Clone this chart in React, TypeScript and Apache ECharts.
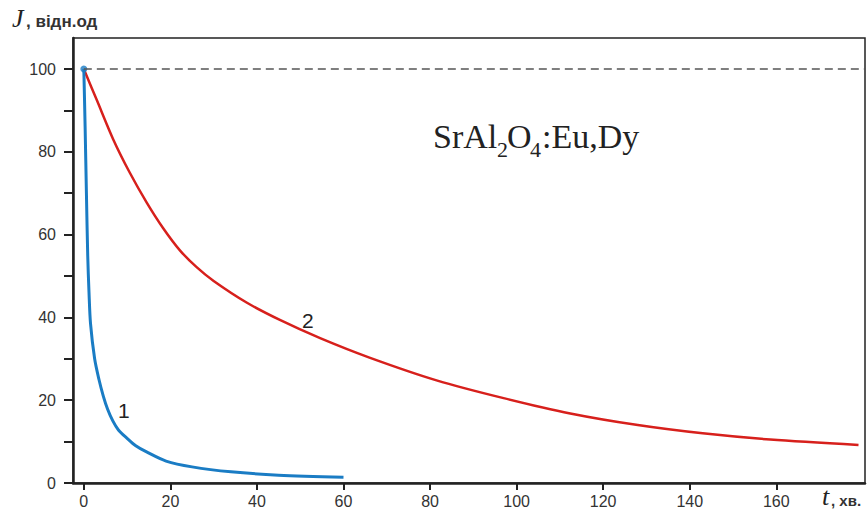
import React, { useEffect, useRef } from "react";
import * as echarts from "echarts";

const curve1: [number, number][] = [
  [0, 100], [0.3, 86], [0.6, 70], [0.9, 55], [1.2, 46], [1.55, 38.5], [2.5, 30],
  [3.5, 25], [4.5, 21], [5.5, 17.8], [6.7, 15], [8, 12.8], [10, 10.8], [12, 9],
  [14.5, 7.5], [19, 5.3], [25, 3.9], [34, 2.7], [45, 1.9], [60, 1.4],
];

const curve2: [number, number][] = [
  [0, 100], [3, 92.5], [6.8, 83], [10.6, 75], [14.5, 67.8], [18.3, 61.6], [22.2, 56.2],
  [26, 52.2], [30, 48.8], [37.6, 43.6], [45.3, 39.4], [54.6, 35], [66, 30.3],
  [81.5, 24.8], [97, 20.5], [112.4, 16.8], [128, 14], [143, 12], [158.6, 10.5], [179, 9.2],
];

const xTicks = [0, 20, 40, 60, 80, 100, 120, 140, 160];
const yTicks = [0, 10, 20, 30, 40, 50, 60, 70, 80, 90, 100];
const yLabels = [0, 20, 40, 60, 80, 100];

const BLUE = "#1a7cc4";
const RED = "#d7201c";
const SERIF = "Liberation Serif, serif";
const SANS = "Liberation Sans, Arial, sans-serif";

export default function App() {
  const ref = useRef<HTMLDivElement>(null);
  useEffect(() => {
    if (!ref.current) return;
    const chart = echarts.init(ref.current, undefined, { renderer: "svg" });
    const labelStyle = { color: "#333", fontSize: 16, fontFamily: SANS };
    const txt = (text: string, x: number, y: number, size: number, family: string, extra: any = {}) => ({
      type: "text",
      x,
      y,
      style: { text, fontFamily: family, fontSize: size, fill: "#222", verticalAlign: "middle", ...extra },
    });
    chart.setOption({
      animation: false,
      grid: { left: 73, right: 3, top: 38, bottom: 32, show: true, borderColor: "#222", borderWidth: 1.5 },
      xAxis: {
        type: "value",
        min: -2.5,
        max: 180.5,
        axisLine: { show: true, onZero: false, lineStyle: { color: "#222", width: 2.5 } },
        axisTick: { show: true, length: 7, customValues: xTicks, lineStyle: { color: "#222", width: 2 } },
        axisLabel: { ...labelStyle, customValues: xTicks, margin: 10 },
        splitLine: { show: false },
      },
      yAxis: {
        type: "value",
        min: 0,
        max: 107.5,
        axisLine: { show: true, onZero: false, lineStyle: { color: "#222", width: 2.5 } },
        axisTick: { show: true, length: 9, customValues: yTicks, lineStyle: { color: "#222", width: 2 } },
        axisLabel: { ...labelStyle, customValues: yLabels, margin: 17 },
        splitLine: { show: false },
      },
      series: [
        {
          type: "line",
          data: curve2,
          showSymbol: false,
          smooth: 0.3,
          lineStyle: { color: RED, width: 2.5 },
          markLine: {
            silent: true,
            symbol: "none",
            label: { show: false },
            lineStyle: { color: "#555", type: [8, 5], width: 1.5 },
            data: [[{ coord: [0, 100] }, { coord: [180.5, 100] }]],
          },
          z: 2,
        },
        {
          type: "line",
          data: curve1,
          showSymbol: false,
          smooth: 0.3,
          lineStyle: { color: BLUE, width: 3 },
          z: 3,
        },
        {
          type: "scatter",
          data: [[0, 100]],
          symbolSize: 7,
          itemStyle: { color: BLUE },
          z: 4,
        },
      ],
      graphic: [
        txt("J", 12, 18, 26, SERIF, { fontStyle: "italic" }),
        txt(", відн.од", 26, 21, 17, SANS, { fontWeight: "bold", fill: "#333" }),
        txt("t", 822, 496, 26, SERIF, { fontStyle: "italic" }),
        txt(", хв.", 831, 500, 15, SANS, { fontWeight: "bold", fill: "#333" }),
        txt("SrAl", 433, 136, 34, SERIF),
        txt("2", 497, 149, 22, SERIF),
        txt("O", 507, 136, 34, SERIF),
        txt("4", 530, 149, 22, SERIF),
        txt(":Eu,Dy", 542, 136, 34, SERIF),
        txt("1", 118, 410, 21, SANS),
        txt("2", 302, 320, 21, SANS),
      ],
    });
    return () => chart.dispose();
  }, []);
  return <div ref={ref} style={{ width: 868, height: 515, position: "absolute", left: 0, top: 0 }} />;
}
